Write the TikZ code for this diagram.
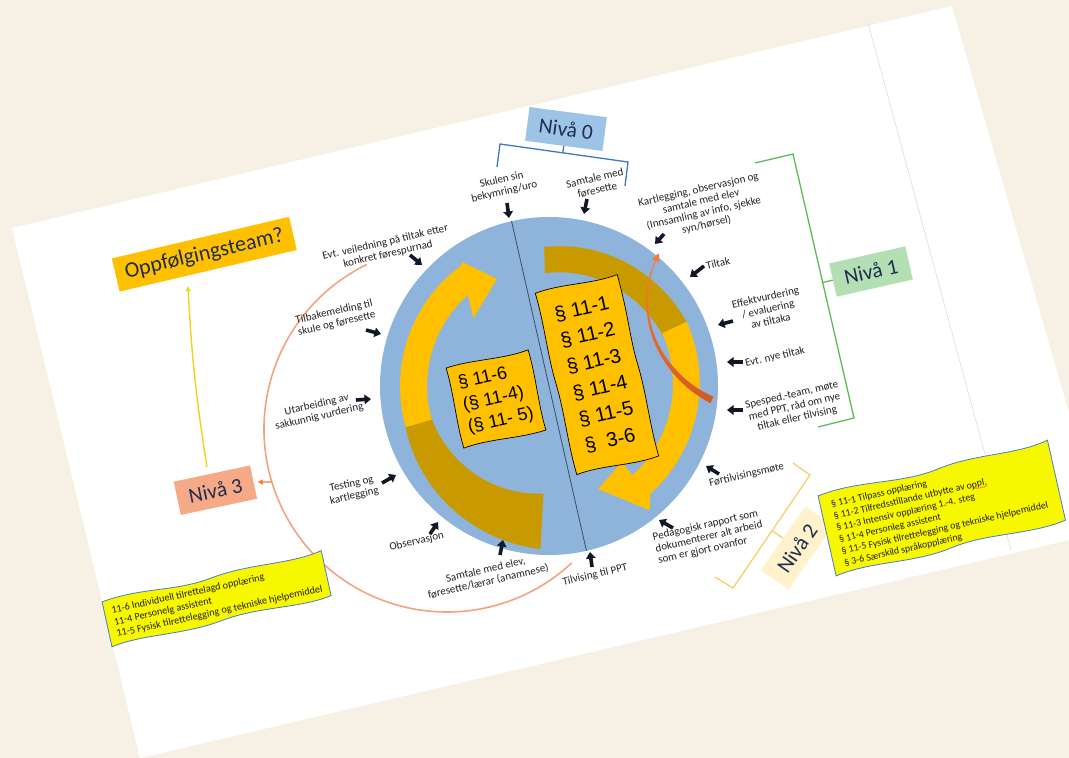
\documentclass[tikz,border=0pt]{standalone}
\usepackage{fontspec}
\setmainfont{Carlito}
\newfontfamily\arialf{Liberation Sans}
\usetikzlibrary{arrows.meta,calc}
\definecolor{bgbeige}{HTML}{F6F1E4}
\definecolor{circblue}{HTML}{8EB4DB}
\definecolor{gold}{HTML}{FFC000}
\definecolor{darkgold}{HTML}{C99A00}
\definecolor{navy}{HTML}{1F2E4F}
\definecolor{labeltext}{HTML}{222222}
\definecolor{arrowblk}{HTML}{101828}
\definecolor{blue0}{HTML}{9DC3E6}
\definecolor{bracketblue}{HTML}{3F78C0}
\definecolor{green1}{HTML}{B4DFB4}
\definecolor{bracketgreen}{HTML}{5DBB5D}
\definecolor{cream2}{HTML}{FFF2CC}
\definecolor{bracketyellow}{HTML}{F2D36B}
\definecolor{salmon3}{HTML}{F6A986}
\definecolor{arcsalmon}{HTML}{F3A383}
\definecolor{orangearr}{HTML}{F47C3A}
\definecolor{orangedark}{HTML}{D65A20}
\definecolor{hiyellow}{HTML}{F7F700}
\definecolor{waveblue}{HTML}{4A7CC6}
\definecolor{yline}{HTML}{F3D21C}
\definecolor{divline}{HTML}{3B4D63}
\definecolor{sepgray}{HTML}{DCDCDC}
\definecolor{spellred}{HTML}{E03030}
\newcommand{\spellwave}{\llap{\color{spellred}\raisebox{-3.2pt}{\fontsize{6}{6}\selectfont\textasciitilde\kern-0.8pt\textasciitilde\kern-0.8pt\textasciitilde\kern-0.8pt\textasciitilde\kern-0.8pt\textasciitilde\kern-0.8pt\textasciitilde\kern-0.8pt\textasciitilde}}}
\begin{document}
\begin{tikzpicture}[x=1pt,y=-1pt,
  lbl/.style={font=\fontsize{11}{12}\selectfont, text=labeltext, align=center, rotate=13, inner sep=0pt},
  barrow/.style={-{Triangle[length=6.5pt,width=9.5pt]}, line width=3.6pt, draw=arrowblk},
  nivabox/.style={font=\fontsize{21.5}{24}\selectfont, text=navy, minimum width=78pt, minimum height=34pt, inner sep=1pt},
  partext/.style={font=\arialf\fontsize{20}{27}\selectfont, align=left, text=black, inner sep=0pt},
  infotext/.style={font=\fontsize{9.9}{12}\selectfont, align=left, text=labeltext, inner sep=0pt},
  papershape/.style={fill=gold, draw=black, line width=0.7pt},
  waveshape/.style={fill=hiyellow, draw=waveblue, line width=0.8pt},
  brk/.style={line width=1.3pt}
]
\useasboundingbox (0,0) rectangle (1069,758);
\fill[bgbeige] (0,0) rectangle (1069,758);
\fill[white] (12,228) -- (952,6) -- (1069,413) -- (1069,540) -- (140,758) -- cycle;
\coordinate (s1) at (868,23); \coordinate (s2) at (1011,550);
\draw[sepgray, line width=0.6pt] (s1) -- (s2);

% circle
\coordinate (C) at (549,386);
\fill[circblue] (C) circle[radius=169];

% left ribbon arrow
\fill[darkgold] plot[domain=93:165, samples=40] ({549+(149+(165-\x)*0.2)*cos(\x)}, {386+(149+(165-\x)*0.2)*sin(\x)})
  -- plot[domain=165:93, samples=40] ({549+(122-(165-\x)*0.2)*cos(\x)}, {386+(122-(165-\x)*0.2)*sin(\x)}) -- cycle;
\fill[gold] plot[domain=164:234, samples=40] ({549+149*cos(\x)}, {386+149*sin(\x)})
  -- (461.7,261.7) -- (497,279) -- (473.3,318.3)
  -- plot[domain=228.4:164, samples=40] ({549+122*cos(\x)}, {386+122*sin(\x)}) -- cycle;
% right ribbon arrow
\fill[darkgold] plot[domain=268:336, samples=40] ({549+(139+(\x-268)*0.19)*cos(\x)}, {386+(139+(\x-268)*0.19)*sin(\x)})
  -- plot[domain=336:268, samples=40] ({549+(113+(\x-268)*0.17)*cos(\x)}, {386+(113+(\x-268)*0.17)*sin(\x)}) -- cycle;
\fill[gold] plot[domain=335:407, samples=40] ({549+(152-(\x-335)*0.056)*cos(\x)}, {386+(152-(\x-335)*0.056)*sin(\x)})
  -- (649.7,510.3) -- (598,489) -- (622,462)
  -- plot[domain=407:335, samples=40] ({549+(125-(\x-335)*0.042)*cos(\x)}, {386+(125-(\x-335)*0.042)*sin(\x)}) -- cycle;

% divider
\draw[divline, line width=0.8pt] ($(C)+(257.2:169)$) -- ($(C)+(77.2:169)$);

% orange inner arrow
\shade[top color=orangearr, bottom color=orangedark] (713.5,396.8) .. controls (661.5,373.7) and (633,315) .. (656,261.2) -- (655,260.8) .. controls (631,315) and (658.5,376.3) .. (710.5,403.2) -- cycle;
\fill[orangearr] (659.4,262.6) -- (658.7,253.2) -- (651.8,259.4) -- cycle;

% paragraph boxes (paper shapes)
\begin{scope}[shift={(496,399)}, rotate=12.5]
\path[papershape] (-42,-41) .. controls (-15,-44) and (15,-37) .. (42,-41)
  .. controls (44,-15) and (40,15) .. (42,41)
  .. controls (15,44) and (-15,37) .. (-42,41)
  .. controls (-44,15) and (-40,-15) .. (-42,-41) -- cycle;
\end{scope}
\begin{scope}[shift={(597,374.6)}, rotate=12.9]
\path[papershape] (-42,-93) .. controls (-15,-97) and (15,-89) .. (42,-93)
  .. controls (44,-50) and (40,-30) .. (42,0) .. controls (44,30) and (40,60) .. (42,93)
  .. controls (15,97) and (-15,89) .. (-42,93)
  .. controls (-44,60) and (-40,30) .. (-42,0) .. controls (-44,-30) and (-40,-60) .. (-42,-93) -- cycle;
\end{scope}
\node[partext, rotate=12.5, font=\arialf\fontsize{18}{22.5}\selectfont] (p1) at (496,399) {§ 11-6\\(§ 11-4)\\(§ 11- 5)};
\node[partext, rotate=12.9] (p2) at (597,374.6) {§ 11-1\\§ 11-2\\§ 11-3\\§ 11-4\\§ 11-5\\§ \ 3-6};

% Nivå 0
\node[nivabox, fill=blue0, rotate=-7.5] (n0) at (566,129) {Nivå 0};
\coordinate (b0l) at (497,167); \coordinate (b0lt) at (500,144);
\coordinate (b0rt) at (628,162); \coordinate (b0r) at (625,186);
\draw[bracketblue, brk] (b0l) -- (b0lt) -- (b0rt) -- (b0r);
\draw[bracketblue, brk] (n0.south) -- ($(b0lt)!(n0.south)!(b0rt)$);

% Nivå 1
\node[nivabox, fill=green1, rotate=12.7] (n1) at (871,271.5) {Nivå 1};
\coordinate (g1) at (755,163); \coordinate (g2) at (793,154);
\coordinate (g3) at (854,418); \coordinate (g4) at (818,427);
\draw[bracketgreen, brk] (g1) -- (g2) -- (g3) -- (g4);
\draw[bracketgreen, brk] (n1.west) -- ($(g2)!(n1.west)!(g3)$);

% Nivå 2
\node[nivabox, fill=cream2, rotate=55] (n2) at (797,548) {Nivå 2};
\coordinate (y1) at (793,463); \coordinate (y2) at (810,475);
\coordinate (y3) at (733,588); \coordinate (y4) at (715,577);
\draw[bracketyellow, brk] (y1) -- (y2) -- (y3) -- (y4);
\draw[bracketyellow, brk] (n2.north) -- ($(y2)!(n2.north)!(y3)$);

% Oppfølgingsteam and Nivå 3
\node[fill=gold, rotate=13.2, minimum width=182pt, minimum height=34pt, font=\fontsize{22}{24}\selectfont, text=navy, inner sep=1pt] (opp) at (204.3,254.2) {Oppfølgingsteam?};
\node[nivabox, fill=salmon3, rotate=12] (n3) at (215.4,490.2) {Nivå 3};
\coordinate (yA) at (207,467); \coordinate (yB) at (188,286);
\draw[yline, line width=1.4pt, -{Triangle[length=5pt,width=4.5pt]}] (yA) to[bend left=3] (yB);

% outer salmon arc
\coordinate (O) at (447,429);
\draw[arcsalmon, line width=1.6pt] ($(O)+(244:183)$) arc[start angle=244, end angle=47, radius=183];
\coordinate (a3) at ($(O)+(163.2:183)$);
\draw[orangearr, line width=1.2pt, -{Triangle[length=5pt,width=5pt]}, shorten >=4pt] (a3) -- (n3.east);

% labels
\node[lbl] (l1) at (503,186) {Skulen sin\\bekymring/uro};
\node[lbl] (l2) at (596,184) {Samtale med\\føresette};
\node[lbl] (l3) at (702.5,207.5) {Kartlegging, observasjon og\\samtale med elev\\(Innsamling av info, sjekke\\syn/hørsel)};
\node[lbl] (l4) at (718,263) {Tiltak};
\node[lbl] (l5) at (768,309) {Effektvurdering\\/ evaluering\\av tiltaka};
\node[lbl] (l6) at (775,357) {Evt. nye tiltak};
\node[lbl] (l7) at (794.5,406.7) {Spesped.-team, møte\\med PPT, råd om nye\\tiltak eller tilvising};
\node[lbl] (l8) at (746.7,475) {Førtilvisingsmøte};
\node[lbl, align=left] (l9) at (709,537) {Pedagogisk rapport som\\dokumenterer alt arbeid\\som er gjort ovanfor};
\node[lbl] (l10) at (595,575) {Tilvising til PPT};
\node[lbl] (l11) at (487,576) {Samtale med elev,\\føresette/lærar (anamnese)};
\node[lbl] (l12) at (416.7,541.7) {Observasjon};
\node[lbl] (l13) at (353,490) {Testing og\\kartlegging};
\node[lbl] (l14) at (318,411) {Utarbeiding av\\sakkunnig vurdering};
\node[lbl] (l15) at (335.5,318) {Tilbakemelding til\\skule og føresette};
\node[lbl] (l16) at (386.7,248.3) {Evt. veiledning på tiltak etter\\konkret førespurnad};

% small black arrows
\foreach \i/\ax/\ay/\bx/\by in {1/507/203/509/218, 2/587/199/584/214, 3/664/234/655/244, 4/704/266/690/277,
  5/733/321/718/325, 6/743/362/727/362, 7/743/410/727/410, 8/719/474/706/466, 9/673/528/659/520,
  10/592/567/590/552, 11/500/555/503/540, 12/430/534/438/522, 13/382/483/396/475, 14/356/400/371/399,
  15/366/330/381/334, 16/410/255/422/265}{
  \coordinate (as\i) at (\ax,\ay); \coordinate (ae\i) at (\bx,\by);
  \draw[barrow] (as\i) -- (ae\i);
}

% info boxes (wave shapes)
\begin{scope}[shift={(942,509)}, rotate=12.7]
\path[waveshape] (-118,-40) .. controls (-75,-47) and (-35,-33) .. (5,-40)
  .. controls (45,-47) and (85,-36) .. (118,-44)
  -- (118,38) .. controls (80,45) and (40,33) .. (0,40)
  .. controls (-40,47) and (-80,35) .. (-118,42) -- cycle;
\end{scope}
\node[infotext, rotate=12.7] (ib1) at (941,511) {§ 11-1 Tilpass opplæring\\§ 11-2 Tilfredsstillande utbytte av oppl.\spellwave\\§ 11-3 Intensiv opplæring 1.-4. steg\\§ 11-4 Personleg assistent\\§ 11-5 Fysisk tilrettelegging og tekniske hjelpemiddel\\§ 3-6 Særskild språkopplæring};
\begin{scope}[shift={(216.7,599.2)}, rotate=12.4]
\path[waveshape] (-112.5,-22) .. controls (-70,-28) and (-40,-16) .. (0,-22)
  .. controls (40,-28) and (80,-18) .. (112.5,-25)
  -- (112.5,21) .. controls (80,27) and (40,16) .. (0,22)
  .. controls (-40,28) and (-80,18) .. (-112.5,24) -- cycle;
\end{scope}
\node[infotext, rotate=12.4, font=\fontsize{10.2}{12}\selectfont] (ib2) at (217,600) {11-6 Individuell tilrettelagd opplæring\\11-4 Personelg assistent\\11-5 Fysisk tilrettelegging og tekniske hjelpemiddel};
\end{tikzpicture}
\end{document}
